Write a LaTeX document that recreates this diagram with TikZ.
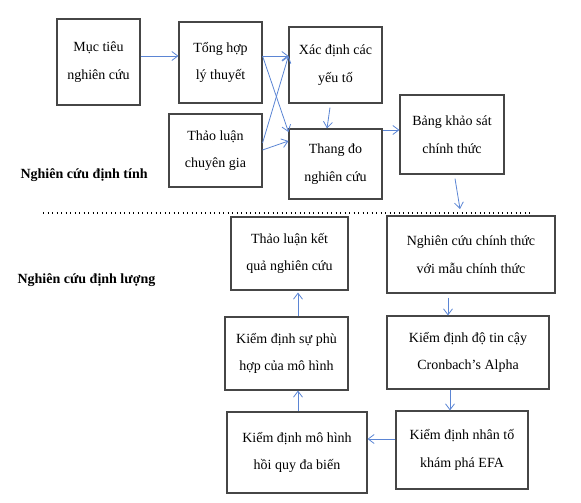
\documentclass[tikz,border=0pt]{standalone}
\usepackage{fontspec}
\setmainfont{Liberation Serif}
\usetikzlibrary{arrows.meta}
\definecolor{flowblue}{RGB}{91,133,212}
\definecolor{boxgray}{RGB}{70,70,70}

\begin{document}
\begin{tikzpicture}[x=1pt,y=-1pt,
        box/.style={draw=boxgray,line width=1.1pt,align=center,inner sep=0pt,
            font=\fontsize{14}{27.5}\selectfont},
        flow/.style={draw=flowblue,line width=0.8pt,-{Straight Barb[length=6pt,width=9pt]}},
        label/.style={anchor=west,font=\fontsize{14}{16}\selectfont\bfseries}]
        \useasboundingbox (0,0) rectangle (581,503);
        \node [box, minimum width=83pt, minimum height=86pt] (muctieu) at (98.5,62) {Mục tiêu\\nghiên cứu};
        \node [box, minimum width=83pt, minimum height=81pt] (tonghop) at (220.5,62.5) {Tổng hợp\\lý thuyết};
        \node [box, minimum width=93pt, minimum height=73pt] (thaoluan) at (215.5,150.5) {Thảo luận\\chuyên gia};
        \node [box, minimum width=93pt, minimum height=76pt] (xacdinh) at (335.5,65) {Xác định các\\yếu tố};
        \node [box, minimum width=93pt, minimum height=70pt] (thangdo) at (335.5,164) {Thang đo\\nghiên cứu};
        \node [box, minimum width=104pt, minimum height=79pt] (bangks) at (452,134.5) {Bảng khảo sát\\chính thức};
        \node [box, minimum width=117pt, minimum height=73pt] (ketqua) at (289.5,253.5) {Thảo luận kết\\quả nghiên cứu};
        \node [box, minimum width=168pt, minimum height=77pt] (chinhthuc) at (471,254.5) {Nghiên cứu chính thức\\với mẫu chính thức};
        \node [box, minimum width=123pt, minimum height=73pt] (phuhop) at (286.5,353.5) {Kiểm định sự phù\\hợp của mô hình};
        \node [box, minimum width=162pt, minimum height=73pt] (tincay) at (468,352.5) {Kiểm định độ tin cậy\\Cronbach’s Alpha};
        \node [box, minimum width=140pt, minimum height=81pt] (hoiquy) at (297,452.5) {Kiểm định mô hình\\hồi quy đa biến};
        \node [box, minimum width=132pt, minimum height=78pt] (efa) at (462,450) {Kiểm định nhân tố\\khám phá EFA};
        \node [label] (dinhtinh) at (17,175) {Nghiên cứu định tính};
        \node [label] (dinhluong) at (14,280) {Nghiên cứu định lượng};
        \coordinate (bangksend) at (460,209);
        \draw [line width=1.1pt, dash pattern=on 1.1pt off 3.4pt] (43,213) -- (530,213);
        \path ([yshift=6pt]muctieu.east) edge [flow] ([yshift=6.5pt]tonghop.west);
        \path ([yshift=6.5pt]tonghop.east) edge [flow] ([yshift=9pt]xacdinh.west);
        \path ([yshift=6.5pt]tonghop.east) edge [flow] ([yshift=32pt]thangdo.west);
        \path ([yshift=7.5pt]thaoluan.east) edge [flow] ([yshift=9pt]xacdinh.west);
        \path ([yshift=0.5pt]thaoluan.east) edge [flow] ([yshift=23pt]thangdo.west);
        \path ([xshift=-5.5pt,yshift=-4pt]xacdinh.south) edge [flow] ([xshift=-8.5pt]thangdo.north);
        \path ([yshift=34pt]thangdo.east) edge [flow] ([yshift=4.5pt]bangks.west);
        \path ([xshift=3pt,yshift=-4pt]bangks.south) edge [flow] (bangksend);
        \path ([xshift=-23pt,yshift=-4pt]chinhthuc.south) edge [flow] ([xshift=-20pt]tincay.north);
        \path ([xshift=-18pt]tincay.south) edge [flow] ([xshift=-12pt]efa.north);
        \path ([yshift=11pt]efa.west) edge [flow] ([yshift=13.5pt]hoiquy.east);
        \path ([xshift=1pt]hoiquy.north) edge [flow] ([xshift=11.5pt]phuhop.south);
        \path ([xshift=11.5pt]phuhop.north) edge [flow] ([xshift=8.5pt,yshift=-2pt]ketqua.south);
    \end{tikzpicture}
\end{document}
